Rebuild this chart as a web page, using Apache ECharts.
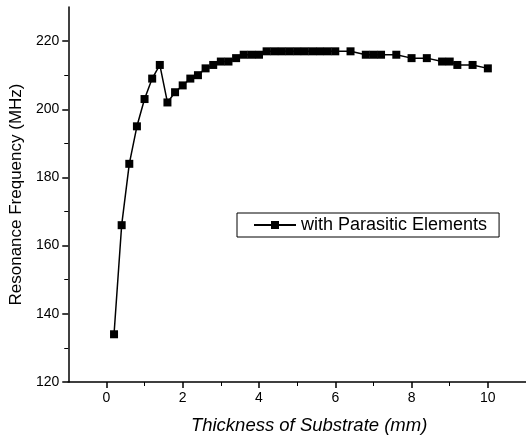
<!DOCTYPE html>
<html><head><meta charset="utf-8">
<script src="https://cdn.jsdelivr.net/npm/echarts@6/dist/echarts.min.js"></script>
<style>html,body{margin:0;padding:0;background:#fff}#c{width:526px;height:440px}</style>
</head><body><div id="c"></div>
<script>
var thickness = [0.2,0.4,0.6,0.8,1.0,1.2,1.4,1.6,1.8,2.0,2.2,2.4,2.6,2.8,3.0,3.2,3.4,3.6,3.8,4.0,4.2,4.4,4.6,4.8,5.0,5.2,5.4,5.6,5.8,6.0,6.4,6.8,7.0,7.2,7.6,8.0,8.4,8.8,9.0,9.2,9.6,10.0];
var frequency = [134,166,184,195,203,209,213,202,205,207,209,210,212,213,214,214,215,216,216,216,217,217,217,217,217,217,217,217,217,217,217,216,216,216,216,215,215,214,214,213,213,212];
var xMajorTicks = [0,2,4,6,8,10];
var xMinorTicks = [1,3,5,7,9];
var yMajorTicks = [120,140,160,180,200,220];
var yMinorTicks = [130,150,170,190,210];
var seriesName = 'with Parasitic Elements';
var xTitle = 'Thickness of Substrate (mm)';
var yTitle = 'Resonance Frequency (MHz)';

var pts = thickness.map(function(x,i){return [x, frequency[i]];});
var font = 'Liberation Sans, Arial, sans-serif';
var chart = echarts.init(document.getElementById('c'));
chart.setOption({
  animation: false,
  backgroundColor: '#fff',
  grid: {left: 66, right: 0, top: 7, bottom: 56},
  legend: {
    left: 237, top: 213,
    data: [seriesName],
    itemWidth: 42, itemHeight: 10,
    itemGap: 4,
    padding: [3, 12, 3, 16],
    borderColor: '#000', borderWidth: 1, borderRadius: 0,
    textStyle: {fontFamily: font, fontSize: 18, color: '#000'}
  },
  xAxis: [{
    type: 'value', min: -1, max: 11,
    name: xTitle, nameLocation: 'middle', nameGap: 34,
    nameTextStyle: {fontFamily: font, fontSize: 18.5, color: '#000', fontStyle: 'italic', padding: [0, 0, 0, 24]},
    axisLine: {show: true, onZero: false, lineStyle: {color: '#000', width: 1.5}},
    axisTick: {show: true, inside: false, length: 6, customValues: xMajorTicks, lineStyle: {color: '#000', width: 1.5}},
    axisLabel: {customValues: xMajorTicks, color: '#000', fontFamily: font, fontSize: 14, margin: 9},
    splitLine: {show: false}
  },{
    type: 'value', min: -1, max: 11, position: 'bottom',
    axisLine: {show: false, onZero: false},
    axisTick: {show: true, length: 4, customValues: xMinorTicks, lineStyle: {color: '#000', width: 1}},
    axisLabel: {show: false},
    splitLine: {show: false}
  }],
  yAxis: [{
    type: 'value', min: 120, max: 230,
    name: yTitle, nameLocation: 'middle', nameGap: 42,
    nameTextStyle: {fontFamily: font, fontSize: 17, color: '#000'},
    axisLine: {show: true, onZero: false, lineStyle: {color: '#000', width: 1.5}},
    axisTick: {show: true, length: 6, customValues: yMajorTicks, lineStyle: {color: '#000', width: 1.5}},
    axisLabel: {customValues: yMajorTicks, color: '#000', fontFamily: font, fontSize: 14, margin: 9},
    splitLine: {show: false}
  },{
    type: 'value', min: 120, max: 230, position: 'left',
    axisLine: {show: false, onZero: false},
    axisTick: {show: true, length: 4, customValues: yMinorTicks, lineStyle: {color: '#000', width: 1}},
    axisLabel: {show: false},
    splitLine: {show: false}
  }],
  series: [{
    name: seriesName, type: 'line', data: pts,
    xAxisIndex: 0, yAxisIndex: 0,
    symbol: 'rect', symbolSize: 8,
    lineStyle: {color: '#000', width: 1.5},
    itemStyle: {color: '#000'}
  }]
});
</script></body></html>
